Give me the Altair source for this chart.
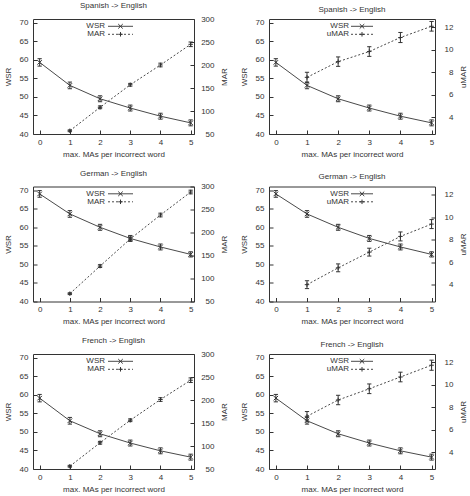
import altair as alt
import pandas as pd

# x positions: maximum number of MAs per incorrect word
STEPS = [0, 1, 2, 3, 4, 5]
MA_STEPS = [1, 2, 3, 4, 5]

# word stroke ratio (WSR) with error margins, per language pair
wsr_es = [59.3, 53.1, 49.5, 47.0, 44.8, 43.0]
wsr_de = [69.0, 63.6, 60.0, 57.0, 54.7, 52.7]
wsr_fr = [59.1, 53.0, 49.5, 47.0, 44.9, 43.2]
wsr_err_es = [1.0, 0.9, 0.8, 0.8, 0.8, 0.8]
wsr_err_de = [0.9, 0.9, 0.8, 0.8, 0.8, 0.7]
wsr_err_fr = [1.0, 0.9, 0.8, 0.8, 0.8, 0.8]

# mouse action ratio (MAR)
mar_es = [57, 108, 157, 200, 245]
mar_de = [67, 127, 186, 238, 288]
mar_fr = [56, 107, 156, 201, 243]
mar_err_es = [2, 3, 3, 4, 5]
mar_err_de = [2, 3, 4, 4, 4]
mar_err_fr = [2, 3, 3, 4, 5]

# useful mouse action ratio (uMAR)
umar_es = [7.55, 8.95, 9.85, 11.1, 12.1]
umar_de = [4.0, 5.5, 6.9, 8.3, 9.4]
umar_fr = [7.2, 8.65, 9.65, 10.7, 11.75]
umar_err_es = [0.45, 0.42, 0.43, 0.45, 0.43]
umar_err_de = [0.35, 0.35, 0.35, 0.4, 0.4]
umar_err_fr = [0.42, 0.42, 0.43, 0.43, 0.45]

WSR_TICKS = [40, 45, 50, 55, 60, 65, 70]
MAR_TICKS = [50, 100, 150, 200, 250, 300]
UMAR_TICKS = [4, 6, 8, 10, 12]

X_DOMAIN = [-0.22, 5.11]
WSR_DOMAIN = [40, 71]
MAR_DOMAIN = [50, 300]
UMAR_DOMAIN = [2.5, 12.75]

FONT = "Liberation Sans"
INK = "#333333"
LINE = "#4a4a4a"
CROSS = "M-1,-1L1,1M-1,1L1,-1"
PLUS = "M-1,0L1,0M0,-1L0,1"
CAP = "M-1,0L1,0"
HEIGHT = 115


def x_enc():
    return alt.X(
        "step:Q",
        scale=alt.Scale(domain=X_DOMAIN, nice=False, zero=False),
        axis=alt.Axis(
            values=STEPS, format="d", title="max. MAs per incorrect word",
            tickSize=4, offset=-4, domain=False, grid=False,
            labelPadding=4, titlePadding=4,
        ),
    )


def series(xs, vals, errs, domain, axis, dash, shape):
    df = pd.DataFrame({
        "step": xs,
        "val": vals,
        "lo": [v - e for v, e in zip(vals, errs)],
        "hi": [v + e for v, e in zip(vals, errs)],
    })
    scale = alt.Scale(domain=domain, nice=False, zero=False)

    def y(field):
        return alt.Y(f"{field}:Q", scale=scale, axis=axis)

    base = alt.Chart(df)
    line_kw = dict(color=LINE, strokeWidth=1)
    if dash:
        line_kw["strokeDash"] = dash
    line = base.mark_line(**line_kw).encode(x=x_enc(), y=y("val"))
    bars = base.mark_rule(color=INK, strokeWidth=1).encode(
        x=x_enc(), y=y("lo"), y2="hi:Q")
    cap_lo = base.mark_point(shape=CAP, size=18, filled=False, color=INK,
                             strokeWidth=1, opacity=1).encode(x=x_enc(), y=y("lo"))
    cap_hi = base.mark_point(shape=CAP, size=18, filled=False, color=INK,
                             strokeWidth=1, opacity=1).encode(x=x_enc(), y=y("hi"))
    pts = base.mark_point(shape=shape, size=20, filled=False, color=INK,
                          strokeWidth=1, opacity=1).encode(x=x_enc(), y=y("val"))
    return alt.layer(line, bars, cap_lo, cap_hi, pts)


def legend(label, row_y, text_x, x0, x1, dash, shape):
    one = pd.DataFrame({"k": [0]})
    base = alt.Chart(one)
    txt = base.mark_text(text=label, align="right", baseline="middle",
                         font=FONT, fontSize=8, color=INK).encode(
        x=alt.value(text_x), y=alt.value(row_y))
    rule_kw = dict(color=LINE, strokeWidth=1)
    if dash:
        rule_kw["strokeDash"] = dash
    sample = base.mark_rule(**rule_kw).encode(
        x=alt.value(x0), x2=alt.value(x1), y=alt.value(row_y))
    mark = base.mark_point(shape=shape, size=20, filled=False, color=INK,
                           strokeWidth=1, opacity=1).encode(
        x=alt.value((x0 + x1) / 2), y=alt.value(row_y))
    return [txt, sample, mark]


def panel(title, wsr, wsr_err, right_name, right_vals, right_err,
          right_domain, right_ticks, width, label_pad, title_pad, leg):
    left_axis = alt.Axis(values=WSR_TICKS, title="WSR", tickSize=4, offset=-4,
                         domain=False, grid=False, labelPadding=5, titlePadding=7)
    right_axis = alt.Axis(values=right_ticks, title=right_name, orient="right",
                          tickSize=4, offset=-4, domain=False, grid=False,
                          labelAlign="right", labelPadding=label_pad,
                          titlePadding=title_pad, titleAngle=270,
                          titleBaseline="top")
    left = series(STEPS, wsr, wsr_err, WSR_DOMAIN, left_axis, None, CROSS)
    right = series(MA_STEPS, right_vals, right_err, right_domain, right_axis,
                   [2, 2], PLUS)
    text_x, x0, x1 = leg
    keys = (legend("WSR", 7.3, text_x, x0, x1, None, CROSS)
            + legend(right_name, 15.3, text_x, x0, x1, [2, 2], PLUS))
    return alt.layer(left, right, *keys).resolve_scale(y="independent").properties(
        width=width, height=HEIGHT,
        title=alt.TitleParams(title, font=FONT, fontSize=8, fontWeight="normal",
                              color=INK, offset=5),
    )


def pair(name, wsr, wsr_err, mar, mar_err, umar, umar_err):
    a = panel(f"{name} -> English", wsr, wsr_err, "MAR", mar, mar_err,
              MAR_DOMAIN, MAR_TICKS, 161, 20, 6, (72, 75, 100))
    b = panel(f"{name} -> English", wsr, wsr_err, "uMAR", umar, umar_err,
              UMAR_DOMAIN, UMAR_TICKS, 166, 18, 6, (80, 82, 104))
    return [a, b]


panels = (
    pair("Spanish", wsr_es, wsr_err_es, mar_es, mar_err_es, umar_es, umar_err_es)
    + pair("German", wsr_de, wsr_err_de, mar_de, mar_err_de, umar_de, umar_err_de)
    + pair("French", wsr_fr, wsr_err_fr, mar_fr, mar_err_fr, umar_fr, umar_err_fr)
)

chart = alt.concat(
    *panels, columns=2, spacing={"row": 52.5, "column": 75}, bounds="flush",
).properties(
    padding={"left": 3, "top": 1, "right": 0, "bottom": 0},
    background="white",
).configure_axis(
    labelFont=FONT, labelFontSize=8, labelColor=INK,
    titleFont=FONT, titleFontSize=8, titleColor=INK, titleFontWeight="normal",
    tickColor=INK, tickWidth=1,
).configure_view(stroke=INK, strokeWidth=1)

chart.save("out.html", embed_options={"renderer": "svg", "actions": False})
